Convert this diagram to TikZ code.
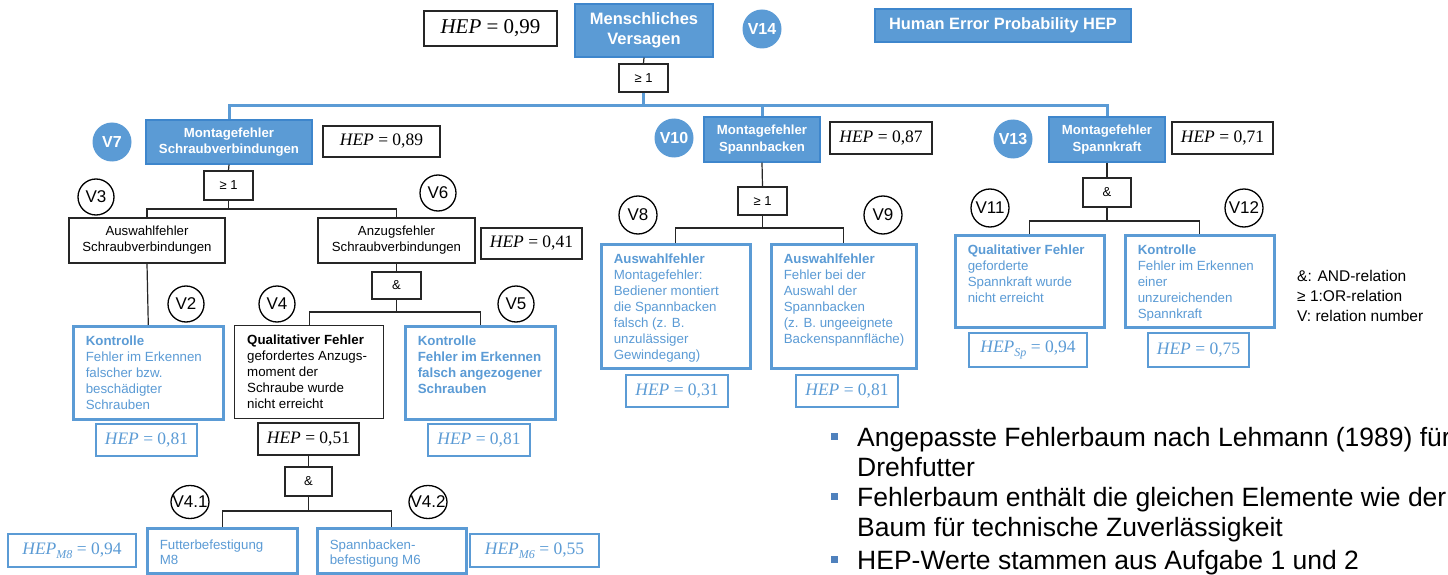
\RequirePackage{fix-cm}
\documentclass[tikz,border=0pt]{standalone}
\usepackage[no-math]{fontspec}
\setmainfont{Liberation Sans}
\newfontfamily\hepfont{Liberation Serif}
\usetikzlibrary{shapes.geometric}
\definecolor{mblue}{HTML}{5B9BD5}
\definecolor{dblue}{HTML}{3E86CC}
\definecolor{tblue}{HTML}{5B9BD5}
\definecolor{bulblue}{HTML}{4F81BD}
\definecolor{lineblk}{HTML}{262626}
\newcommand{\fsz}[2]{\fontsize{#1}{#2}\selectfont}
\newcommand{\boxtxt}[5]{\parbox[c][#2pt][t]{#1pt}{\raggedright\leftskip=12.5pt\relax\fsz{13.3}{#4}\rule{0pt}{#3pt}#5}}
\newcommand{\hepm}[2]{{\hepfont\fsz{17.5}{19}\textit{HEP}#1 = #2}}
\newcommand{\hepsub}[1]{\raisebox{-0.25em}{\fsz{12}{13}\textit{#1}}}
\begin{document}
\begin{tikzpicture}[x=1pt,y=-1pt,
  topbox/.style={draw=dblue, fill=mblue, line width=1.2pt, text=white, align=center, inner sep=0pt},
  hepk/.style={draw=lineblk, line width=1.4pt, inner sep=0pt},
  hepb/.style={draw=mblue, line width=2.6pt, text=tblue, inner sep=0pt},
  gatebox/.style={draw=lineblk, line width=1.4pt, inner sep=0pt, font={\fsz{13}{15}}},
  vb/.style={circle, fill=mblue, text=white, inner sep=0pt, minimum size=39pt, font={\bfseries\fsz{16}{18}}},
  vk/.style={circle, draw=black, line width=1.3pt, inner sep=0pt, minimum size=36pt, font={\fsz{17}{19}}},
  bbox/.style={draw=mblue, line width=2.6pt, text=tblue, inner sep=0pt, anchor=north west},
  kbox/.style={draw=lineblk, line width=1.4pt, inner sep=0pt, anchor=north west},
  cbox/.style={draw=lineblk, line width=1.4pt, inner sep=0pt, align=center, font={\fsz{13.2}{16}}},
  conn/.style={draw=lineblk, line width=1.2pt},
  bconn/.style={draw=mblue, line width=3pt},
  bul/.style={fill=bulblue, minimum size=7pt, inner sep=0pt},
  bultxt/.style={anchor=base west, inner sep=0pt, font={\fsz{26.5}{31}}},
  legtxt/.style={anchor=base west, inner sep=0pt, font={\fsz{15.5}{18}}},
]
\path[use as bounding box, fill=white] (0,0) rectangle (1448,575);

% ---- top level
\node[topbox, minimum width=138pt, minimum height=53pt, font={\bfseries\fsz{16.5}{20}}] (top) at (644,30.5) {Menschliches\\Versagen};
\node[hepk, minimum width=133pt, minimum height=35pt] (h99) at (490.5,28.5) {{\hepfont\fsz{21}{23}\textit{HEP} = 0,99}};
\node[vb] (v14) at (762,29) {V14};
\node[topbox, minimum width=256pt, minimum height=33pt, font={\bfseries\fsz{16.4}{18}}] (hep) at (1003,25.5) {Human Error Probability HEP};
\node[gatebox, minimum width=49pt, minimum height=28pt] (g0) at (643.5,78) {≥ 1};

% ---- second level
\node[topbox, minimum width=166pt, minimum height=44pt, font={\bfseries\fsz{13.2}{16.5}}] (m1) at (229,142) {Montagefehler\\Schraubverbindungen};
\node[vb] (v7) at (112,142) {V7};
\node[hepk, minimum width=117pt, minimum height=31pt] (h89) at (381.5,141.5) {\hepm{}{0,89}};
\node[topbox, minimum width=116pt, minimum height=45pt, font={\bfseries\fsz{13.2}{16.5}}] (m2) at (762,139.5) {Montagefehler\\Spannbacken};
\node[vb] (v10) at (674,138) {V10};
\node[hepk, minimum width=102pt, minimum height=32pt] (h87) at (881,138) {\hepm{}{0,87}};
\node[topbox, minimum width=116pt, minimum height=45pt, font={\bfseries\fsz{13.2}{16.5}}] (m3) at (1107,139.5) {Montagefehler\\Spannkraft};
\node[vb] (v13) at (1013,139) {V13};
\node[hepk, minimum width=101pt, minimum height=32pt] (h71) at (1222.5,138) {\hepm{}{0,71}};

% ---- branch Schraubverbindungen
\node[gatebox, minimum width=49pt, minimum height=29pt] (g1) at (228.5,185.5) {≥ 1};
\node[cbox, minimum width=156pt, minimum height=45pt] (aw) at (147,240.5) {Auswahlfehler\\Schraubverbindungen};
\node[cbox, minimum width=157pt, minimum height=45pt] (az) at (396.5,240.5) {Anzugsfehler\\Schraubverbindungen};
\node[vk] (v3) at (96,197) {V3};
\node[vk] (v6) at (438,193) {V6};
\node[hepk, minimum width=101pt, minimum height=31pt] (h41) at (531.5,243.5) {\hepm{}{0,41}};
\node[gatebox, minimum width=49pt, minimum height=27pt] (g2) at (396.5,285.5) {\&};
\node[vk] (v2) at (186,304) {V2};
\node[vk] (v4) at (277,304) {V4};
\node[vk] (v5) at (516,304) {V5};
\node[bbox] (b2) at (72,325) {\boxtxt{150}{93}{19}{16}{\textbf{Kontrolle}\\Fehler im Erkennen\\falscher bzw.\\beschädigter\\Schrauben}};
\node[kbox] (b4) at (234,325) {\boxtxt{149}{93}{19}{16}{\textbf{Qualitativer Fehler}\\gefordertes Anzugs-\\moment der\\Schraube wurde\\nicht erreicht}};
\node[bbox] (b5) at (404,325) {\boxtxt{150}{93}{19}{16}{\bfseries Kontrolle\\Fehler im Erkennen\\falsch angezogener\\Schrauben}};
\node[hepb, minimum width=101pt, minimum height=32pt] (h81a) at (146.5,440) {\hepm{}{0,81}};
\node[hepk, minimum width=101pt, minimum height=32pt] (h51) at (308.5,439) {\hepm{}{0,51}};
\node[hepb, minimum width=102pt, minimum height=32pt] (h81b) at (479,440) {\hepm{}{0,81}};
\node[gatebox, minimum width=47pt, minimum height=29pt] (g5) at (308.5,481.5) {\&};
\node[vk, ellipse, minimum width=38pt, minimum height=33pt] (v41) at (190,502) {\makebox[0pt]{V4.1}};
\node[vk, ellipse, minimum width=38pt, minimum height=33pt] (v42) at (428,502) {\makebox[0pt]{V4.2}};
\node[bbox] (b41) at (146,527) {\boxtxt{150}{45}{21}{15}{Futterbefestigung\\M8}};
\node[bbox] (b42) at (316,527) {\boxtxt{149}{45}{21}{15}{Spannbacken-\\befestigung M6}};
\node[hepb, minimum width=128pt, minimum height=33pt] (hm8) at (72,550.5) {\hepm{\hepsub{M8}}{0,94}};
\node[hepb, minimum width=129pt, minimum height=33pt] (hm6) at (534.5,550.5) {\hepm{\hepsub{M6}}{0,55}};

% ---- branch Spannbacken
\node[gatebox, minimum width=49pt, minimum height=28pt] (g3) at (762.5,201) {≥ 1};
\node[vk, minimum size=38pt] (v8) at (638,215) {V8};
\node[vk, minimum size=38pt] (v9) at (883,215) {V9};
\node[bbox] (b8) at (600,243) {\boxtxt{149}{124}{19}{16}{\textbf{Auswahlfehler}\\Montagefehler:\\Bediener montiert\\die Spannbacken\\falsch (z. B.\\unzulässiger\\Gewindegang)}};
\node[bbox] (b9) at (770,243) {\boxtxt{145}{124}{19}{16}{\textbf{Auswahlfehler}\\Fehler bei der\\Auswahl der\\Spannbacken\\(z. B. ungeeignete\\Backenspannfläche)}};
\node[hepb, minimum width=102pt, minimum height=32pt] (h31) at (677,391) {\hepm{}{0,31}};
\node[hepb, minimum width=102pt, minimum height=32pt] (h81c) at (847,391) {\hepm{}{0,81}};

% ---- branch Spannkraft
\node[gatebox, minimum width=48pt, minimum height=29pt] (g4) at (1107,192.5) {\&};
\node[vk, minimum size=38pt] (v11) at (990,208) {V11};
\node[vk, minimum size=38pt] (v12) at (1244,208) {V12};
\node[bbox] (b11) at (954,234) {\boxtxt{149}{92}{19}{16}{\textbf{Qualitativer Fehler}\\geforderte\\Spannkraft wurde\\nicht erreicht}};
\node[bbox] (b12) at (1124,234) {\boxtxt{149}{92}{19}{16}{\textbf{Kontrolle}\\Fehler im Erkennen\\einer\\unzureichenden\\Spannkraft}};
\node[hepb, minimum width=118pt, minimum height=34pt] (hsp) at (1028,350) {\hepm{\hepsub{Sp}}{0,94}};
\node[hepb, minimum width=101pt, minimum height=34pt] (h75) at (1198.5,350) {\hepm{}{0,75}};

% ---- legend
\node[legtxt] (l1) at (1297,281) {\&: AND-relation};
\node[legtxt] (l2) at (1297,301) {≥ 1:OR-relation};
\node[legtxt] (l3) at (1297,321) {V: relation number};

% ---- bullets
\node[bul] (bu1) at (834,436.5) {};
\node[bultxt] (t1) at (857,446) {Angepasste Fehlerbaum nach Lehmann (1989) für};
\node[bultxt] (t2) at (857,476) {Drehfutter};
\node[bul] (bu2) at (834,496.5) {};
\node[bultxt] (t3) at (857,506) {Fehlerbaum enthält die gleichen Elemente wie der};
\node[bultxt] (t4) at (857,536) {Baum für technische Zuverlässigkeit};
\node[bul] (bu3) at (834,559.5) {};
\node[bultxt] (t5) at (857,569) {HEP-Werte stammen aus Aufgabe 1 und 2};

% ---- connectors
\coordinate (j0) at (643.5,106);
\coordinate (j1) at (228.5,209);
\coordinate (j2) at (396.5,312);
\coordinate (j3) at (762.5,228);
\coordinate (j4) at (1107,221);
\coordinate (j5) at (308.5,511);

\draw[conn] (top.south) -- (g0.north);
\draw[bconn] (g0.south) -- (j0);
\draw[bconn] (m1.north) |- (j0) -| (m3.north);
\draw[bconn] (m2.north) -- (m2.north |- j0);

\draw[conn] (m1.south) -- (g1.north);
\draw[conn] (g1.south) -- (j1);
\draw[conn] (aw.north) |- (j1) -| (az.north);
\draw[conn] (aw.south) -- (b2.north);
\draw[conn] (az.south) -- (g2.north);
\draw[conn] (g2.south) -- (j2);
\draw[conn] (b4.north) |- (j2) -| (b5.north);
\draw[conn] (h51.south) -- (g5.north);
\draw[conn] (g5.south) -- (j5);
\draw[conn] (b41.north) |- (j5) -| (b42.north);

\draw[conn] (m2.south) -- (g3.north);
\draw[conn] (g3.south) -- (j3);
\draw[conn] (b8.north) |- (j3) -| (b9.north);

\draw[conn] (m3.south) -- (g4.north);
\draw[conn] (g4.south) -- (j4);
\draw[conn] (b11.north) |- (j4) -| (b12.north);
\end{tikzpicture}
\end{document}
